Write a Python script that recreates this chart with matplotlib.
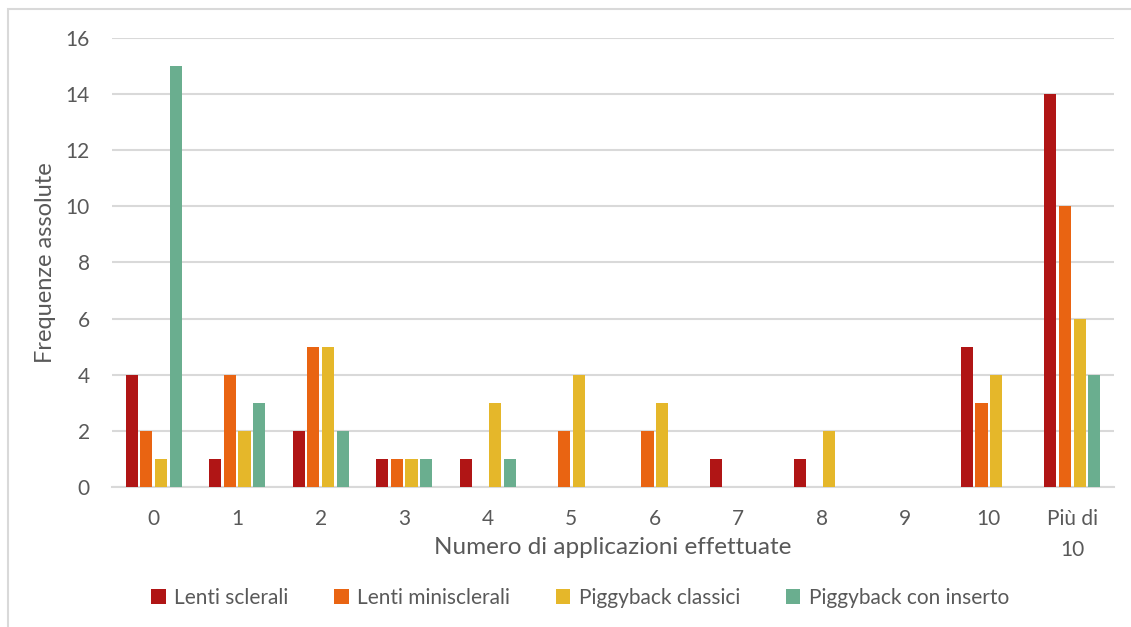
import numpy as np
import matplotlib.pyplot as plt
from matplotlib.patches import Rectangle

categorie = ["0", "1", "2", "3", "4", "5", "6", "7", "8", "9", "10", "Più di\n10"]
serie = ["Lenti sclerali", "Lenti minisclerali", "Piggyback classici", "Piggyback con inserto"]
sclerali = [4, 1, 2, 1, 1, 0, 0, 1, 1, 0, 5, 14]
minisclerali = [2, 4, 5, 1, 0, 2, 2, 0, 0, 0, 3, 10]
piggy_classici = [1, 2, 5, 1, 3, 4, 3, 0, 2, 0, 4, 6]
piggy_inserto = [15, 3, 2, 1, 1, 0, 0, 0, 0, 0, 0, 4]
colori = ["#B01515", "#E96412", "#E5B72A", "#6AAE8F"]

plt.rcParams['font.family'] = ['Lato', 'DejaVu Sans']
grigio_testo = "#595959"
grigio_linee = "#D9D9D9"

fig = plt.figure(figsize=(11.31, 6.27), dpi=100)
ax = fig.add_axes([0.099, 0.2233, 0.886, 0.7161])

x = np.arange(len(categorie))
passo = 0.175
larghezza = 0.145
valori = [sclerali, minisclerali, piggy_classici, piggy_inserto]
for i, (nome, v, c) in enumerate(zip(serie, valori, colori)):
    ax.bar(x + (i - 1.5) * passo, v, width=larghezza, color=c, label=nome, zorder=3)

ax.set_xlim(-0.5, len(categorie) - 0.5)
ax.set_ylim(0, 16)
ax.set_yticks(range(0, 17, 2))
ax.set_xticks(x)
ax.set_xticklabels(categorie, linespacing=1.7)
ax.yaxis.grid(True, color=grigio_linee, linewidth=1.5, zorder=0)
for lato in ["top", "right", "left"]:
    ax.spines[lato].set_visible(False)
ax.spines["bottom"].set_color(grigio_linee)
ax.spines["bottom"].set_linewidth(1.5)
ax.tick_params(length=0, labelsize=15, colors=grigio_testo)
ax.tick_params(axis="x", pad=16)
ax.tick_params(axis="y", pad=16)

ax.set_xlabel("Numero di applicazioni effettuate", fontsize=17.5, color=grigio_testo, labelpad=-17)
ax.set_ylabel("Frequenze assolute", fontsize=17, color=grigio_testo, labelpad=7)

ax.legend(loc="center", bbox_to_anchor=(0.467, -0.247), ncol=4, frameon=False,
          fontsize=15, labelcolor=grigio_testo, handlelength=0.7, handleheight=0.7,
          handletextpad=0.4, columnspacing=2.2)

# cornice sottile intorno al grafico
fig.patches.append(Rectangle((8 / 1131, -0.05), 1.2, 1 - 9 / 627 + 0.05,
                             transform=fig.transFigure, fill=False,
                             edgecolor=grigio_linee, linewidth=1.5))

fig.savefig("out.png", dpi=100)
